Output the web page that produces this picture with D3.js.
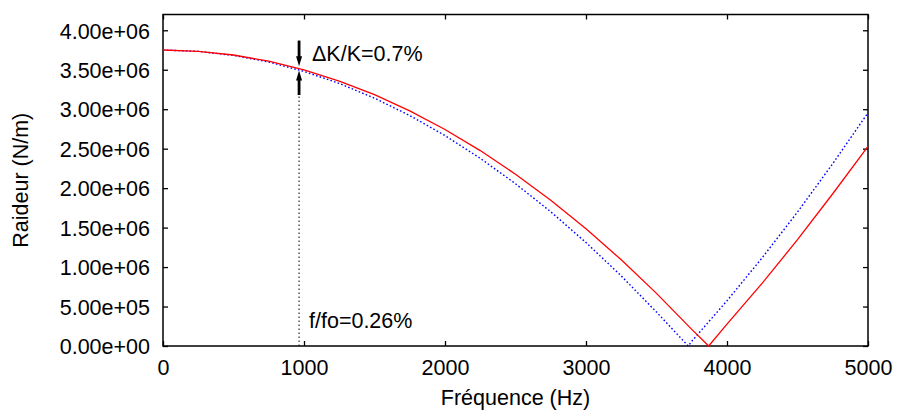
<!DOCTYPE html>
<html><head><meta charset="utf-8">
<script src="https://cdn.jsdelivr.net/npm/d3@7"></script>
<style>body{margin:0;background:#fff}svg{display:block}text{font-family:"Liberation Sans",Arial,sans-serif}</style>
</head><body><svg id="c" width="897" height="410"></svg>
<script>
// Frequencies (Hz)
const freqRed  = [0,250,500,750,1000,1250,1500,1750,2000,2250,2500,2750,3000,3250,3500,3750,3870,4000,4250,4500,4750,5000];
const kRed     = [3.75e6,3.734e6,3.687e6,3.608e6,3.498e6,3.357e6,3.184e6,2.979e6,2.743e6,2.476e6,2.177e6,1.847e6,1.485e6,1.092e6,0.667e6,0.211e6,0,0.277e6,0.796e6,1.347e6,1.929e6,2.53e6];
const freqBlue = [0,250,500,750,1000,1250,1500,1750,2000,2250,2500,2750,3000,3250,3500,3725,3750,4000,4250,4500,4750,5000];
const kBlue    = [3.75e6,3.733e6,3.682e6,3.598e6,3.479e6,3.327e6,3.140e6,2.920e6,2.666e6,2.378e6,2.056e6,1.701e6,1.311e6,0.888e6,0.430e6,0,0.060e6,0.573e6,1.119e6,1.697e6,2.310e6,2.955e6];
const xTicks = [0,1000,2000,3000,4000,5000];
const yTicks = [0,0.5e6,1e6,1.5e6,2e6,2.5e6,3e6,3.5e6,4e6];
const annotFreq = 965;
const arrowTop = [3.87e6, 3.545e6];   // from, tip
const arrowBot = [3.18e6, 3.49e6];    // from, tip
const dotTop = 3.18e6;
const labelDK = "ΔK/K=0.7%";
const labelF = "f/fo=0.26%";

const svg = d3.select("#c");
const L=163, R=868, T=14.5, B=346;
const x = d3.scaleLinear().domain([0,5000]).range([L,R]);
const y = d3.scaleLinear().domain([0,4.2e6]).range([B,T]);
const fmt = v => { if(v===0) return "0.00e+00"; const e=Math.floor(Math.log10(v)); const m=v/Math.pow(10,e); return m.toFixed(2)+"e+"+String(e).padStart(2,"0"); };

const fs = 21.5;
// axes
const gx = svg.append("g").attr("transform",`translate(0,${B})`)
  .call(d3.axisBottom(x).tickValues(xTicks).tickSize(-5).tickPadding(0).tickFormat(d3.format("d")));
const gxt = svg.append("g").attr("transform",`translate(0,${T})`)
  .call(d3.axisTop(x).tickValues(xTicks).tickSize(-5).tickFormat(""));
const gy = svg.append("g").attr("transform",`translate(${L},0)`)
  .call(d3.axisLeft(y).tickValues(yTicks).tickSize(-5).tickPadding(13).tickFormat(fmt));
const gyr = svg.append("g").attr("transform",`translate(${R},0)`)
  .call(d3.axisRight(y).tickValues(yTicks).tickSize(-5).tickFormat(""));
[gx,gxt,gy,gyr].forEach(g=>{ g.select(".domain").remove(); g.selectAll("line").attr("stroke","#000").attr("stroke-width",1.3);
  g.selectAll("text").attr("font-size",fs).attr("fill","#000").attr("font-family","Liberation Sans, Arial, sans-serif"); });
gx.selectAll("text").attr("y",29).attr("dy",0);
gy.selectAll("text").attr("dy","0.36em");

svg.append("rect").attr("x",L).attr("y",T).attr("width",R-L).attr("height",B-T)
  .attr("fill","none").attr("stroke","#000").attr("stroke-width",1.5);

// curves
const line = d3.line().x(d=>x(d[0])).y(d=>y(d[1]));
svg.append("path").datum(freqBlue.map((f,i)=>[f,kBlue[i]])).attr("d",line)
  .attr("fill","none").attr("stroke","#0000ff").attr("stroke-width",1.4).attr("stroke-dasharray","1.6,2.2");
svg.append("path").datum(freqRed.map((f,i)=>[f,kRed[i]])).attr("d",line)
  .attr("fill","none").attr("stroke","#ff0000").attr("stroke-width",1.3);

// annotation
const ax = x(annotFreq);
svg.append("line").attr("x1",ax).attr("x2",ax).attr("y1",y(0)).attr("y2",y(dotTop))
  .attr("stroke","#000").attr("stroke-width",1).attr("stroke-dasharray","1.5,2.5");
function arrow(from, tip){
  const y0=y(from), y1=y(tip), dir = y1>y0?1:-1, hl=10, hw=3;
  svg.append("line").attr("x1",ax).attr("x2",ax).attr("y1",y0).attr("y2",y1-dir*hl*0.6)
    .attr("stroke","#000").attr("stroke-width",2.8);
  svg.append("path").attr("d",`M${ax},${y1} L${ax-hw},${y1-dir*hl} L${ax+hw},${y1-dir*hl} Z`).attr("fill","#000");
}
arrow(arrowTop[0],arrowTop[1]);
arrow(arrowBot[0],arrowBot[1]);
svg.append("text").attr("x",312).attr("y",61).attr("font-size",fs).text(labelDK);
svg.append("text").attr("x",309).attr("y",327.5).attr("font-size",fs).text(labelF);

// axis titles
svg.append("text").attr("x",(L+R)/2).attr("y",404.5).attr("text-anchor","middle").attr("font-size",fs).text("Fréquence (Hz)");
svg.append("text").attr("transform",`translate(28,${(T+B)/2}) rotate(-90)`).attr("text-anchor","middle").attr("font-size",fs).text("Raideur (N/m)");
</script></body></html>
